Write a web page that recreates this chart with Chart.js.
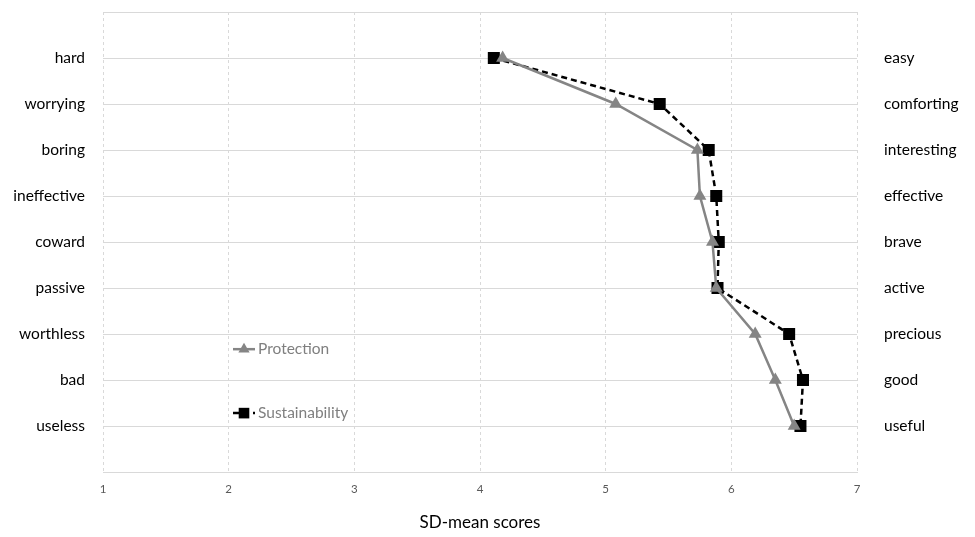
<!DOCTYPE html>
<html>
<head>
<meta charset="utf-8">
<script src="https://cdn.jsdelivr.net/npm/chart.js@4.4.1/dist/chart.umd.min.js"></script>
<style>
  html, body { margin: 0; padding: 0; background: #fff; }
  #wrap { width: 975px; height: 537px; position: relative; }
</style>
</head>
<body>
<div id="wrap"><canvas id="chart"></canvas></div>
<script>
// --- Data ---
const leftLabels = ['hard', 'worrying', 'boring', 'ineffective', 'coward', 'passive', 'worthless', 'bad', 'useless'];
const rightLabels = ['easy', 'comforting', 'interesting', 'effective', 'brave', 'active', 'precious', 'good', 'useful'];
const protection = [4.18, 5.08, 5.73, 5.75, 5.85, 5.88, 6.19, 6.35, 6.50];
const sustainability = [4.11, 5.43, 5.82, 5.88, 5.90, 5.89, 6.46, 6.57, 6.55];
const xMin = 1, xMax = 7;

const FONT = 'Lato, "Noto Sans", sans-serif';
const GRID = '#d9d9d9';

const toPoints = arr => arr.map((v, i) => ({ x: v, y: i + 1 }));

// fixed axis boxes so the plot lands where the original sits
const fixBox = (w, h) => s => {
    if (w) s.width = w;
    if (h) s.height = h;
    s.paddingTop = 0; s.paddingBottom = 0;
    s.paddingLeft = 0; s.paddingRight = 0;
};

// legend drawn inside the plot, like the original
const innerLegend = {
    id: 'innerLegend',
    afterDatasetsDraw(chart) {
        const { ctx, chartArea, scales } = chart;
        const x0 = chartArea.left + 130;
        const rows = [
            { ds: chart.data.datasets[0], y: scales.y.getPixelForValue(7.33) },
            { ds: chart.data.datasets[1], y: scales.y.getPixelForValue(8.72) }
        ];
        rows.forEach(r => {
            const ds = r.ds;
            ctx.save();
            ctx.strokeStyle = ds.borderColor;
            ctx.lineWidth = ds.borderWidth;
            ctx.setLineDash(ds.borderDash || []);
            ctx.beginPath();
            ctx.moveTo(x0, r.y);
            ctx.lineTo(x0 + 22, r.y);
            ctx.stroke();
            ctx.setLineDash([]);
            ctx.fillStyle = ds.pointBackgroundColor;
            Chart.helpers.drawPoint(ctx, { pointStyle: ds.pointStyle, radius: ds.pointRadius - 1, borderWidth: 0 }, x0 + 11, r.y);
            ctx.fillStyle = '#7f7f7f';
            ctx.font = '15.5px ' + FONT;
            ctx.textBaseline = 'middle';
            ctx.textAlign = 'left';
            ctx.fillText(ds.label, x0 + 25, r.y);
            ctx.restore();
        });
    }
};

new Chart(document.getElementById('chart'), {
    type: 'line',
    data: {
        datasets: [
            {
                label: 'Protection',
                data: toPoints(protection),
                borderColor: '#858585',
                borderWidth: 2.5,
                pointStyle: 'triangle',
                pointRadius: 7.5,
                pointBackgroundColor: '#858585',
                pointBorderColor: '#858585',
                pointBorderWidth: 0,
                tension: 0
            },
            {
                label: 'Sustainability',
                data: toPoints(sustainability),
                borderColor: '#000000',
                borderWidth: 2.5,
                borderDash: [6, 4],
                pointStyle: 'rect',
                pointRadius: 8.5,
                pointBackgroundColor: '#000000',
                pointBorderColor: '#000000',
                pointBorderWidth: 0,
                tension: 0
            }
        ]
    },
    options: {
        responsive: true,
        maintainAspectRatio: false,
        animation: false,
        layout: { autoPadding: false, padding: { top: 12, left: 0, right: 0, bottom: 0 } },
        plugins: { legend: { display: false }, tooltip: { enabled: false } },
        scales: {
            x: {
                type: 'linear',
                min: xMin,
                max: xMax,
                ticks: { stepSize: 1, color: '#595959', font: { family: FONT, size: 11.5 }, padding: 10 },
                grid: { color: GRID, drawTicks: false },
                border: { display: true, color: GRID, dash: [3, 3] },
                title: { display: true, text: 'SD-mean scores', color: '#000', font: { family: FONT, size: 17 }, padding: { top: 0, bottom: 4 } },
                afterFit: fixBox(0, 65)
            },
            y: {
                type: 'linear',
                position: 'left',
                reverse: true,
                min: 0,
                max: 10,
                ticks: {
                    stepSize: 1,
                    color: '#000',
                    font: { family: FONT, size: 15.5 },
                    padding: 18,
                    callback: v => leftLabels[v - 1] || ''
                },
                grid: { color: GRID, drawTicks: false },
                border: { display: false },
                afterFit: fixBox(103, 0)
            },
            y2: {
                type: 'linear',
                position: 'right',
                reverse: true,
                min: 0,
                max: 10,
                ticks: {
                    stepSize: 1,
                    color: '#000',
                    font: { family: FONT, size: 15.5 },
                    padding: 27,
                    callback: v => rightLabels[v - 1] || ''
                },
                grid: { display: false, drawTicks: false },
                border: { display: false },
                afterFit: fixBox(118, 0)
            }
        }
    },
    plugins: [innerLegend]
});
</script>
</body>
</html>
